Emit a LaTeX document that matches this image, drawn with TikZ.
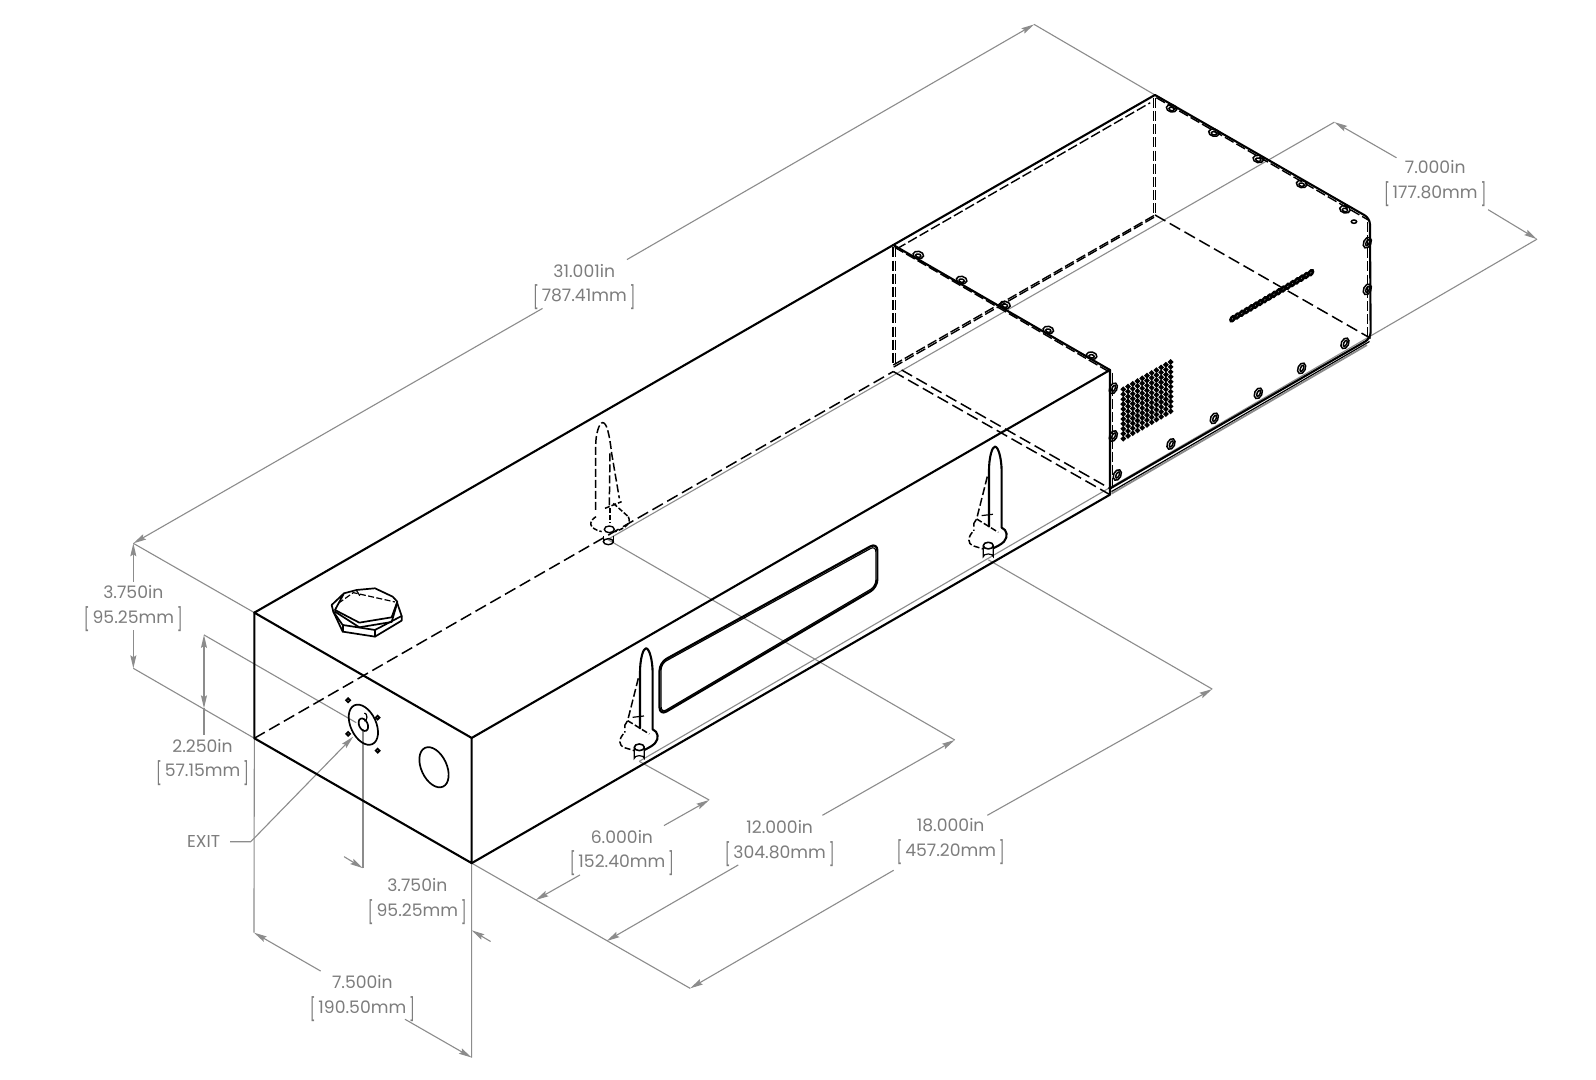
\documentclass[tikz,border=0pt]{standalone}
\usepackage{fontspec}
\setmainfont{Poppins}
\usetikzlibrary{arrows.meta}
\definecolor{dimgrey}{RGB}{140,140,140}
\definecolor{txtgrey}{RGB}{125,125,125}
\newcommand{\lb}{\raisebox{-0.45ex}{\scalebox{0.8}[1.3]{[}}\,}
\newcommand{\rb}{\,\raisebox{-0.45ex}{\scalebox{0.8}[1.3]{]}}}
\tikzset{
  dimline/.style={draw=dimgrey,line width=0.55pt},
  tipline/.style={draw=dimgrey,line width=0.55pt,-{Stealth[length=6.5pt,width=3pt,inset=1pt]}},
  solidedge/.style={draw=black,line width=1.05pt,line cap=round,line join=round},
  hid/.style={draw=black,line width=0.75pt,dash pattern=on 6pt off 2.5pt},
  flange/.style={draw=black,line width=0.7pt,dash pattern=on 5pt off 1.6pt},
  thinl/.style={draw=black,line width=0.6pt},
  lab/.style={text=txtgrey,font=\fontsize{8.6}{12.2}\selectfont,align=center,inner sep=0pt},
  zm/.style 2 args={shift={(#1/1.0179,#2/1.0179)},scale=0.3275},
}
\newcommand{\frontbolt}[2]{%
\begin{scope}[zm={#1}{#2}]
  \draw[solidedge] (150,295) -- (150,130) .. controls (150,85) and (160,55) .. (168,55)
     .. controls (178,55) and (188,90) .. (188,130) -- (188,298)
     .. controls (205,305) and (208,325) .. (195,340) .. controls (185,350) and (172,355) .. (163,360);
  \draw[hid,dash pattern=on 4pt off 1.5pt] (145,145) -- (113,272) -- (105,285) -- (105,308);
  \draw[hid,dash pattern=on 3pt off 1.2pt] (100,312) .. controls (85,330) and (88,345) .. (100,352) -- (133,362);
  \draw[hid,dash pattern=on 3pt off 1.2pt] (113,272) -- (178,312);
  \draw[thinl] (128,262) -- (162,258) (150,250) -- (150,295);
  \draw[thinl,fill=white] (133,352) -- (133,385) arc[start angle=180,end angle=360,x radius=15,y radius=8] -- (163,352);
  \draw[solidedge,line width=0.8pt,fill=white] (148,352) circle[x radius=15,y radius=10];
\end{scope}}
\begin{document}
\begin{tikzpicture}[x=0.50893pt,y=-0.50893pt]
\useasboundingbox[fill=white] (0,0) rectangle (1568,1061);

% corners
\coordinate (A) at (249.9,601.9);
\coordinate (B) at (463.4,725);
\coordinate (C) at (1090.5,363.5);
\coordinate (D) at (877.6,240.7);
\coordinate (AB) at (249.9,725.3);
\coordinate (BB) at (463.4,848);
\coordinate (CB) at (1090.5,486);
\coordinate (CU) at (1090.5,480);
\coordinate (DB) at (877.6,365);
\coordinate (DU) at (877.6,358.6);
\coordinate (DV) at (885.8,363.5);
\coordinate (E) at (1134.7,93.3);
\coordinate (EU) at (1134.7,211.2);
\coordinate (F) at (1345.9,214.5);
\coordinate (FU) at (1346.6,332.4);

% dimension anchors
\coordinate (t31a) at (131,533.8);
\coordinate (t31b) at (1016,24);
\coordinate (t7a) at (1311,120);
\coordinate (t7b) at (1510,235);
\coordinate (b6) at (628,748);
\coordinate (b12) at (597,530);
\coordinate (b18) at (971,550);
\coordinate (t6up) at (696.8,786);
\coordinate (t6lo) at (526.3,884.2);
\coordinate (t12up) at (938,727);
\coordinate (t12lo) at (596,924.5);
\coordinate (t18up) at (1191,677);
\coordinate (t18lo) at (678,971);
\coordinate (l375) at (131,656.6);
\coordinate (t225a) at (200.4,623.8);
\coordinate (t225b) at (200.4,695.9);
\coordinate (conn) at (357,712);
\coordinate (v375) at (356.6,853);
\coordinate (t750a) at (249.5,916.3);
\coordinate (t750b) at (463.4,1039);
\coordinate (t375r) at (463.4,914);

% grey extension lines
\draw[dimline] (A) -- (t31a) (E) -- (t31b);
\draw[dimline] (t7a) -- (b12) (t7b) -- (b6);
\draw[dimline] (b6) -- (t6up) (b12) -- (t12up) (b18) -- (t18up);
\draw[dimline] (BB) -- (t18lo);
\draw[dimline] (AB) -- (l375) (t225a) -- (350,710);
\draw[dimline,line width=0.7pt] (356.6,716) -- (v375);
\draw[dimline] (AB) -- (t750a) (BB) -- (t750b);

% dimension arrows
\draw[tipline] (533,303) -- (t31a);
\draw[tipline] (616,255) -- (t31b);
\draw[tipline] (1372,155) -- (t7a);
\draw[tipline] (1462,206) -- (t7b);
\draw[tipline] (131,571.4) -- (t31a);
\draw[tipline] (131,619) -- (l375);
\draw[tipline] (200.4,660) -- (t225a);
\draw[tipline] (200.4,660) -- (t225b);
\draw[dimline] (t225b) -- (200.4,722);
\draw[tipline] (652.3,811.1) -- (t6up);
\draw[tipline] (569.8,859.6) -- (t6lo);
\draw[tipline] (808,801) -- (t12up);
\draw[tipline] (725.3,849.8) -- (t12lo);
\draw[tipline] (970,801) -- (t18up);
\draw[tipline] (878,855) -- (t18lo);
\draw[tipline] (338,841.6) -- (v375);
\draw[tipline] (482,925) -- (t375r);
\draw[tipline] (315,954) -- (t750a);
\draw[tipline] (397.9,1001.4) -- (t750b);

% labels
\node[lab] (L31) at (574,282) {31.001in\\\lb 787.41mm\rb};
\node[lab] (L7) at (1410,180.5) {7.000in\\\lb 177.80mm\rb};
\node[lab] (L375a) at (131,598) {3.750in\\\lb 95.25mm\rb};
\node[lab] (L225) at (199,749) {2.250in\\\lb 57.15mm\rb};
\node[lab] (L6) at (611,838) {6.000in\\\lb 152.40mm\rb};
\node[lab] (L12) at (766,829) {12.000in\\\lb 304.80mm\rb};
\node[lab] (L18) at (934,827) {18.000in\\\lb 457.20mm\rb};
\node[lab] (L375b) at (410,886) {3.750in\\\lb 95.25mm\rb};
\node[lab] (L750) at (356,981) {7.500in\\\lb 190.50mm\rb};
\node[lab] (Lexit) at (200,827) {EXIT};
\draw[tipline] (226,827) -- (246.3,827) -- (347,723.7);

% solid edges
\draw[solidedge] (A) -- (B) -- (C) -- (D) -- cycle;
\draw[solidedge] (A) -- (AB) -- (BB) -- (B);
\draw[solidedge] (BB) -- (CB) -- (C);
\draw[solidedge] (D) -- (E);
\draw[solidedge,rounded corners=3pt] (E) -- (F) -- (FU) -- (CU);
% hidden edges
\draw[hid] (AB) -- (DB);
\draw[hid] (DB) -- (CB);
\draw[hid] (DV) -- (CU);
\draw[hid] (EU) -- (FU);
\draw[flange] (881,244.5) -- (1130,101);
\draw[flange] (879.6,243) -- (879.6,358);
\draw[flange] (877.4,243) -- (877.4,358);
\draw[flange] (1133,96) -- (1133,211);
\draw[flange] (1135.4,96) -- (1135.4,211);
\draw[flange] (DU) -- (EU);
\draw[flange] (878,360.6) -- (1135,212.8);
\draw[flange] (879,243) -- (1090,365.5);
\draw[flange] (1136,96) -- (1344,216);
\draw[flange] (1093,366) -- (1093,480);
\draw[flange] (1343.6,218) -- (1343.6,332);
\draw[thinl] (1092,483) -- (1345.5,335.5);
\draw[dimline,line width=0.9pt] (1092,485) -- (1343,339);

% slot
\draw[solidedge,line width=1.1pt,rounded corners=4pt] (648,651) -- (862,533) -- (862,577) -- (648,703) -- cycle;
\draw[thinl,rounded corners=3pt] (649.5,652) -- (860.5,536) -- (860.5,576) -- (649.5,700.5) -- cycle;

% connector and hole
\draw[solidedge,line width=0.85pt] (conn) circle[x radius=12.5,y radius=21,rotate=25];
\draw[solidedge,line width=0.85pt] (conn) circle[x radius=4.2,y radius=6.5,rotate=25];
\draw[thinl] (358,708.5) arc[start angle=90,end angle=-90,x radius=2.5,y radius=4];
\foreach \p in {(342,688),(371,705),(342,721),(371,737.5)}
  \draw[thinl,line width=0.9pt] \p circle[radius=1.9];
\draw[solidedge,line width=0.85pt] (426.4,753.8) circle[x radius=12.5,y radius=21,rotate=25];

% nut
\begin{scope}[zm={320}{580}]
  \draw[solidedge,line width=0.85pt] (35,75) -- (72,40) -- (110,30) -- (165,25) -- (218,50) -- (232,65) -- (215,112) -- (118,128) -- (45,90) -- (72,40);
  \draw[solidedge,line width=0.85pt] (45,95) -- (118,142) -- (215,126) -- (232,68);
  \draw[solidedge,line width=0.85pt] (232,70) -- (245,108) -- (165,150) -- (68,135) -- (40,95) -- (35,75);
  \draw[solidedge,line width=0.85pt] (40,95) -- (68,155) -- (165,170) -- (245,122) -- (245,108);
  \draw[solidedge,line width=0.85pt] (68,135) -- (68,155) (165,150) -- (165,170);
  \draw[thinl,dash pattern=on 3pt off 1.2pt] (55,70) -- (100,38) -- (225,66);
  \draw[thinl,dash pattern=on 3pt off 1.2pt] (110,32) -- (120,48);
\end{scope}

% bolts
\frontbolt{590}{630}
\frontbolt{939}{428.3}
\begin{scope}[zm={560}{400}]
  \draw[hid,dash pattern=on 4pt off 1.5pt] (107,330) -- (107,140) .. controls (107,100) and (118,68) .. (128,68)
     .. controls (140,68) and (148,100) .. (155,160) -- (178,295);
  \draw[hid,dash pattern=on 4pt off 1.5pt] (150,160) -- (148,320);
  \draw[hid,dash pattern=on 2.5pt off 1pt] (135,325) -- (185,305) (160,310) -- (205,350);
  \draw[hid,dash pattern=on 2.5pt off 1pt] (150,325) -- (150,370);
  \draw[hid,dash pattern=on 2.5pt off 1pt] (108,350) .. controls (85,365) and (85,385) .. (125,395);
  \draw[hid,dash pattern=on 2.5pt off 1pt] (205,350) .. controls (215,370) and (195,385) .. (165,395);
  \draw[thinl,line width=0.7pt] (148,388) circle[x radius=15,y radius=10];
  \draw[thinl,line width=0.7pt] (130,408) -- (130,430) (160,408) -- (160,430);
  \draw[thinl,line width=0.7pt] (145,425) circle[x radius=15,y radius=9];
\end{scope}

% screws, back box
\begin{scope}[zm={1060}{80}]
  \foreach \p in {(335,85),(462,158),(595,237),(725,312),(855,388)} {
    \draw[thinl,line width=0.75pt] \p circle[x radius=16,y radius=11,rotate=-12];
    \draw[thinl,line width=0.75pt] \p ++(0,2) circle[x radius=8,y radius=5,rotate=-12];
  }
  \foreach \p in {(160,925),(160,1068),(172,1185),(333,1092),(463,1015),(595,940),(725,865),(855,790),(922,488),(922,628)} {
    \draw[thinl,line width=0.75pt] \p circle[x radius=11,y radius=17,rotate=-25];
    \draw[thinl,line width=0.75pt] \p ++(1,0) circle[x radius=4.5,y radius=10,rotate=-25];
  }
  \draw[thinl,line width=0.75pt] (882,425) circle[x radius=8,y radius=5];
  \foreach \i in {0,...,17}
    \draw[thinl,line width=1.25pt] ({518+\i*13.8},{716-\i*8.1}) circle[x radius=5,y radius=9,rotate=-35];
\end{scope}
% screws, front box
\begin{scope}[zm={860}{230}]
  \foreach \p in {(175,75),(305,150),(435,225),(565,300),(695,377)} {
    \draw[thinl,line width=0.75pt] \p circle[x radius=16,y radius=11,rotate=-12];
    \draw[thinl,line width=0.75pt] \p ++(0,2) circle[x radius=8,y radius=5,rotate=-12];
  }
\end{scope}
% vent mesh
\begin{scope}[zm={1110}{350}]
  \foreach \i in {0,...,10}
    \foreach \j in {0,...,10}
      \draw[thinl,line width=0.95pt] ({40+\i*14.2},{118-\i*8.2+\j*14.8}) circle[radius=4.8];
\end{scope}
\end{tikzpicture}
\end{document}
